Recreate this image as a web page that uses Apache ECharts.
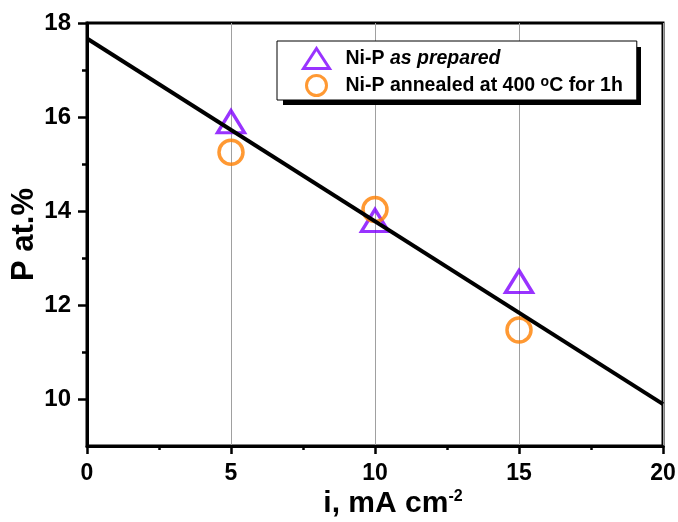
<!DOCTYPE html>
<html><head><meta charset="utf-8">
<script src="https://cdn.jsdelivr.net/npm/echarts@6/dist/echarts.min.js"></script>
<style>html,body{margin:0;padding:0;background:#fff}#c{width:678px;height:522px}</style>
</head><body><div id="c"></div>
<script>
// ---- data ----
const xTickValues = [0, 5, 10, 15, 20];
const yTickLabels = [10, 12, 14, 16, 18];
const yMinorTicks = [11, 13, 15, 17];
const currentDensity = [5, 10, 15];
const asPrepared = [15.9, 13.8, 12.5];
const annealed = [15.25, 14.03, 11.47];
const fitX = [0, 20];
const fitY = [17.67, 9.89];
const seriesNames = ['Ni-P as prepared', 'Ni-P annealed at 400 °C for 1h'];

// ---- chart ----
const F = "'Liberation Sans', Arial, sans-serif";
const chart = echarts.init(document.getElementById('c'), null, {renderer: 'canvas'});
const zip = (xs, ys) => xs.map((x, i) => [x, ys[i]]);

chart.setOption({
  animation: false,
  backgroundColor: '#fff',
  grid: {left: 87, top: 23, right: 15, bottom: 76, containLabel: false, outerBoundsMode: 'none',
    show: true, borderColor: '#000', borderWidth: 3, backgroundColor: 'transparent'},
  graphic: [{
    type: 'rect', z: 1, silent: true,
    shape: {x: 283, y: 47, width: 358, height: 58},
    style: {fill: '#000'}
  }],
  xAxis: {
    type: 'value', min: xTickValues[0], max: xTickValues[xTickValues.length - 1], interval: 5,
    axisLine: {show: true, onZero: false, lineStyle: {color: '#000', width: 3}},
    axisTick: {show: true, inside: false, length: 8, lineStyle: {color: '#000', width: 2.5}},
    minorTick: {show: true, splitNumber: 2, length: 4, lineStyle: {color: '#000', width: 2.5}},
    axisLabel: {fontSize: 23, fontWeight: 'bold', color: '#000', fontFamily: F, margin: 16},
    splitLine: {show: true, lineStyle: {color: '#a0a0a0', width: 1}},
    name: '{m|i, mA cm}{s|-2}', nameLocation: 'middle', nameGap: 43, nameMoveOverlap: false,
    nameTextStyle: {padding: [0, 0, 0, 36], rich: {
      m: {fontSize: 30, fontWeight: 'bold', color: '#000', fontFamily: F},
      s: {fontSize: 16, fontWeight: 'bold', color: '#000', fontFamily: F, verticalAlign: 'top'}
    }}
  },
  yAxis: [{
    type: 'value', min: 9, max: 18, position: 'left',
    axisLine: {show: true, onZero: false, lineStyle: {color: '#000', width: 3}},
    axisTick: {show: true, inside: false, length: 9, customValues: yTickLabels, lineStyle: {color: '#000', width: 2.5}},
    axisLabel: {customValues: yTickLabels, fontSize: 24, fontWeight: 'bold', color: '#000', fontFamily: F, margin: 16},
    splitLine: {show: false},
    name: 'P at.%', nameLocation: 'middle', nameGap: 47, nameMoveOverlap: false,
    nameTextStyle: {fontSize: 31, fontWeight: 'bold', color: '#000', fontFamily: F}
  }, {
    type: 'value', min: 9, max: 18, position: 'left',
    axisLine: {show: false},
    axisTick: {show: true, inside: false, length: 5, customValues: yMinorTicks, lineStyle: {color: '#000', width: 2.5}},
    axisLabel: {show: false},
    splitLine: {show: false}
  }],
  legend: {
    orient: 'vertical', left: 277, top: 41, z: 4,
    padding: [6, 14, 3, 25], itemGap: 4, itemWidth: 26, itemHeight: 20,
    backgroundColor: '#fff', borderColor: '#000', borderWidth: 1,
    itemStyle: {borderWidth: 3},
    data: [{name: seriesNames[0], icon: 'triangle'}, {name: seriesNames[1], icon: 'circle'}],
    formatter: n => n === seriesNames[0]
      ? '{b|Ni-P }{bi|as prepared}'
      : '{b|Ni-P annealed at 400 }{sup|o}{b|C for 1h}',
    textStyle: {padding: [0, 0, 0, 11], rich: {
      b: {fontSize: 19.5, fontWeight: 'bold', color: '#000', fontFamily: F},
      bi: {fontSize: 19.5, fontWeight: 'bold', fontStyle: 'italic', color: '#000', fontFamily: F},
      sup: {fontSize: 14, fontWeight: 'bold', color: '#000', fontFamily: F, verticalAlign: 'top'}
    }}
  },
  series: [{
    name: seriesNames[0], type: 'scatter', symbol: 'triangle', symbolSize: [27, 22], z: 3,
    itemStyle: {color: 'rgba(255,255,255,0)', borderColor: '#7f00ff', borderWidth: 3.3},
    data: zip(currentDensity, asPrepared)
  }, {
    name: seriesNames[1], type: 'scatter', symbol: 'circle', symbolSize: 24, z: 3,
    itemStyle: {color: 'rgba(255,255,255,0)', borderColor: '#ff7f00', borderWidth: 3.5},
    data: zip(currentDensity, annealed)
  }, {
    name: 'fit', type: 'line', showSymbol: false, symbol: 'none', z: 5,
    lineStyle: {color: '#000', width: 4},
    data: zip(fitX, fitY)
  }]
});
</script></body></html>
